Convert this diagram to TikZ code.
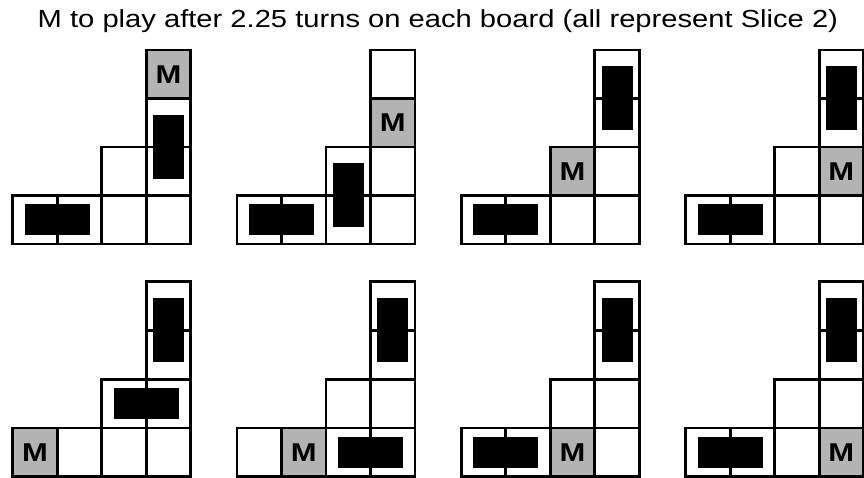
\documentclass[tikz,border=0pt]{standalone}
\usepackage{fontspec}
\setmainfont{Liberation Sans}
\definecolor{mgray}{HTML}{B3B3B3}
\begin{document}
\begin{tikzpicture}[x=1pt,y=-1pt,
  cellbox/.style={draw=black,line width=2.8pt},
  piece/.style={fill=black},
  mlabel/.style={font=\fontsize{25.8}{25.8}\selectfont\bfseries,inner sep=0pt},
  titletext/.style={font=\fontsize{24.7}{24.7}\selectfont,inner sep=0pt,anchor=base}]
\useasboundingbox (0,0) rectangle (864,478);
\node[titletext] (title) at (437.9,27.7) {\scalebox{1.18}[1]{M to play after 2.25 turns on each board (all represent Slice 2)}};
\foreach \n/\L/\B/\h/\mc/\mr/\vc/\vr/\hc/\hr in {
  a/12.7/244/48.5/3/3/3/1/0/0,
  b/237.0/244/48.5/3/2/2/0/0/0,
  c/461.3/244/48.5/2/1/3/2/0/0,
  d/685.6/244/48.5/3/1/3/2/0/0,
  e/12.7/476.7/48.75/0/0/3/2/2/1,
  f/237.0/476.7/48.75/1/0/3/2/2/0,
  g/461.3/476.7/48.75/2/0/3/2/0/0,
  h/685.6/476.7/48.75/3/0/3/2/0/0}{
  \begin{scope}[shift={(\L,\B)},x=44.5pt,y=\h pt]
    \fill[mgray] (\mc,\mr) rectangle ++(1,1);
    \fill[piece] ([xshift=-15.5pt,yshift=-32pt]{\vc+0.5},{\vr+1}) rectangle ++(31pt,64pt);
    \fill[piece] ([xshift=-32.5pt,yshift=-15.5pt]{\hc+1},{\hr+0.5}) rectangle ++(65pt,31pt);
    \foreach \c/\r in {0/0,1/0,2/0,3/0,2/1,3/1,3/2,3/3}
      \draw[cellbox] (\c,\r) rectangle ++(1,1);
    \node[mlabel] (m\n) at ({\mc+0.5},{\mr+0.5}) {\scalebox{1.2}[1]{M}};
  \end{scope}
}
\end{tikzpicture}
\end{document}
